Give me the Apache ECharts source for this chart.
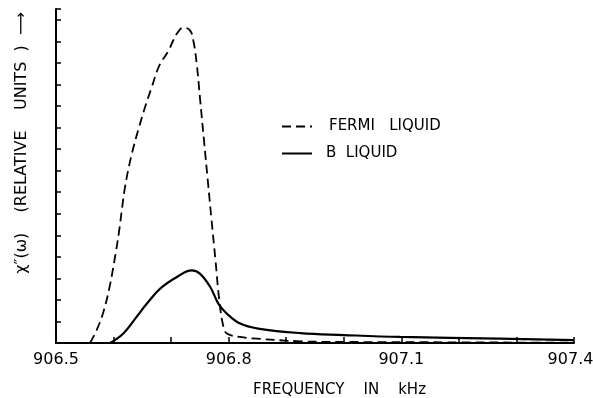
<!DOCTYPE html>
<html>
<head>
<meta charset="utf-8">
<script src="https://cdn.jsdelivr.net/npm/echarts@6/dist/echarts.min.js"></script>
<style>
  html, body { margin: 0; padding: 0; background: #fff; }
  #chart { width: 593px; height: 398px; }
</style>
</head>
<body>
<div id="chart"></div>
<script>
// frequencies in kHz, chi'' in relative units
var fermiFreq = [906.5591, 906.5704, 906.5817, 906.5929, 906.6016, 906.6091, 906.6150, 906.6199, 906.6265, 906.6346, 906.6442, 906.6546, 906.6663, 906.6798, 906.6955, 906.7038, 906.7128, 906.7212, 906.7328, 906.7385, 906.7444, 906.7505, 906.7571, 906.7637, 906.7703, 906.7771, 906.7837, 906.791, 906.797, 906.820, 906.849, 906.924, 907.0, 907.1, 907.2, 907.3, 907.4];
var fermiVal  = [0, 0.59, 1.38, 2.58, 3.84, 5.09, 6.30, 7.23, 8.16, 9.08, 10.01, 10.94, 11.87, 12.89, 13.56, 14.05, 14.46, 14.64, 14.51, 14.05, 12.98, 11.27, 9.41, 7.55, 5.70, 3.84, 1.98, 0.74, 0.44, 0.28, 0.20, 0.08, 0.05, 0.04, 0.03, 0.02, 0.01];

var bFreq = [906.594, 906.617, 906.640, 906.658, 906.681, 906.710, 906.736, 906.750, 906.768, 906.782, 906.797, 906.820, 906.851, 906.924, 907.0, 907.098, 907.271, 907.4];
var bVal  = [0, 0.44, 1.21, 1.83, 2.52, 3.06, 3.37, 3.22, 2.60, 1.83, 1.36, 0.90, 0.67, 0.46, 0.37, 0.28, 0.20, 0.13];

var xLabels = ['906.5', '906.8', '907.1', '907.4'];

function pairs(xs, ys) {
  var out = [];
  for (var i = 0; i < xs.length; i++) out.push([xs[i], ys[i]]);
  return out;
}

var dom = document.getElementById('chart');
var myChart = echarts.init(dom);
var font = 'DejaVu Sans';

var option = {
  backgroundColor: '#fff',
  animation: false,
  textStyle: { fontFamily: font, color: '#000' },
  grid: { left: 56, right: 19, top: 9, bottom: 55, outerBoundsMode: 'none', containLabel: false },
  legend: {
    orient: 'vertical',
    left: 281,
    top: 119,
    padding: 0,
    itemWidth: 30,
    itemHeight: 14,
    itemGap: 12,
    textStyle: { fontFamily: font, fontSize: 15, color: '#000', padding: [0, 0, 0, 12], lineHeight: 14 },
    data: [
      { name: 'FERMI   LIQUID', itemStyle: { opacity: 0 } },
      { name: 'B  LIQUID', itemStyle: { opacity: 0 }, textStyle: { padding: [0, 0, 0, 9] } }
    ]
  },
  graphic: [
    {
      type: 'text',
      left: 253,
      top: 383,
      style: { text: 'FREQUENCY    IN    kHz', font: '15px "DejaVu Sans"', fill: '#000' }
    },
    {
      type: 'text',
      x: 22,
      y: 143,
      rotation: Math.PI / 2,
      style: {
        text: 'χ″(ω)    (RELATIVE    UNITS  )  ⟶',
        font: '16px "DejaVu Sans"',
        fill: '#000',
        align: 'center',
        verticalAlign: 'middle'
      }
    }
  ],
  xAxis: {
    type: 'value',
    min: 906.5,
    max: 907.4,
    interval: 0.1,
    splitLine: { show: false },
    axisLine: { lineStyle: { color: '#000', width: 2 } },
    axisTick: { inside: true, length: 6, lineStyle: { color: '#000', width: 1.5 } },
    axisLabel: {
      fontSize: 16,
      color: '#000',
      margin: 9,
      formatter: function (v) {
        var s = v.toFixed(1);
        if (s === '907.4') return '{r|' + s + '}';
        return xLabels.indexOf(s) >= 0 ? s : '';
      },
      rich: {
        r: { fontFamily: font, fontSize: 16, color: '#000', padding: [0, 7, 0, 0] }
      }
    }
  },
  yAxis: {
    type: 'value',
    min: 0,
    max: 15.5,
    interval: 1,
    splitLine: { show: false },
    axisLine: { show: true, lineStyle: { color: '#000', width: 2 } },
    axisTick: { show: true, inside: true, length: 5, lineStyle: { color: '#000', width: 1.5 } },
    axisLabel: { show: false }
  },
  series: [
    {
      name: 'FERMI   LIQUID',
      type: 'line',
      data: pairs(fermiFreq, fermiVal),
      smooth: 0.4,
      showSymbol: false,
      symbol: 'none',
      lineStyle: { color: '#000', width: 1.8, type: [9, 5] },
      itemStyle: { color: '#000' }
    },
    {
      name: 'B  LIQUID',
      type: 'line',
      data: pairs(bFreq, bVal),
      smooth: 0.4,
      showSymbol: false,
      symbol: 'none',
      lineStyle: { color: '#000', width: 2.2 },
      itemStyle: { color: '#000' }
    }
  ]
};

myChart.setOption(option);
window.onresize = function () { myChart.resize(); };
</script>
</body>
</html>
